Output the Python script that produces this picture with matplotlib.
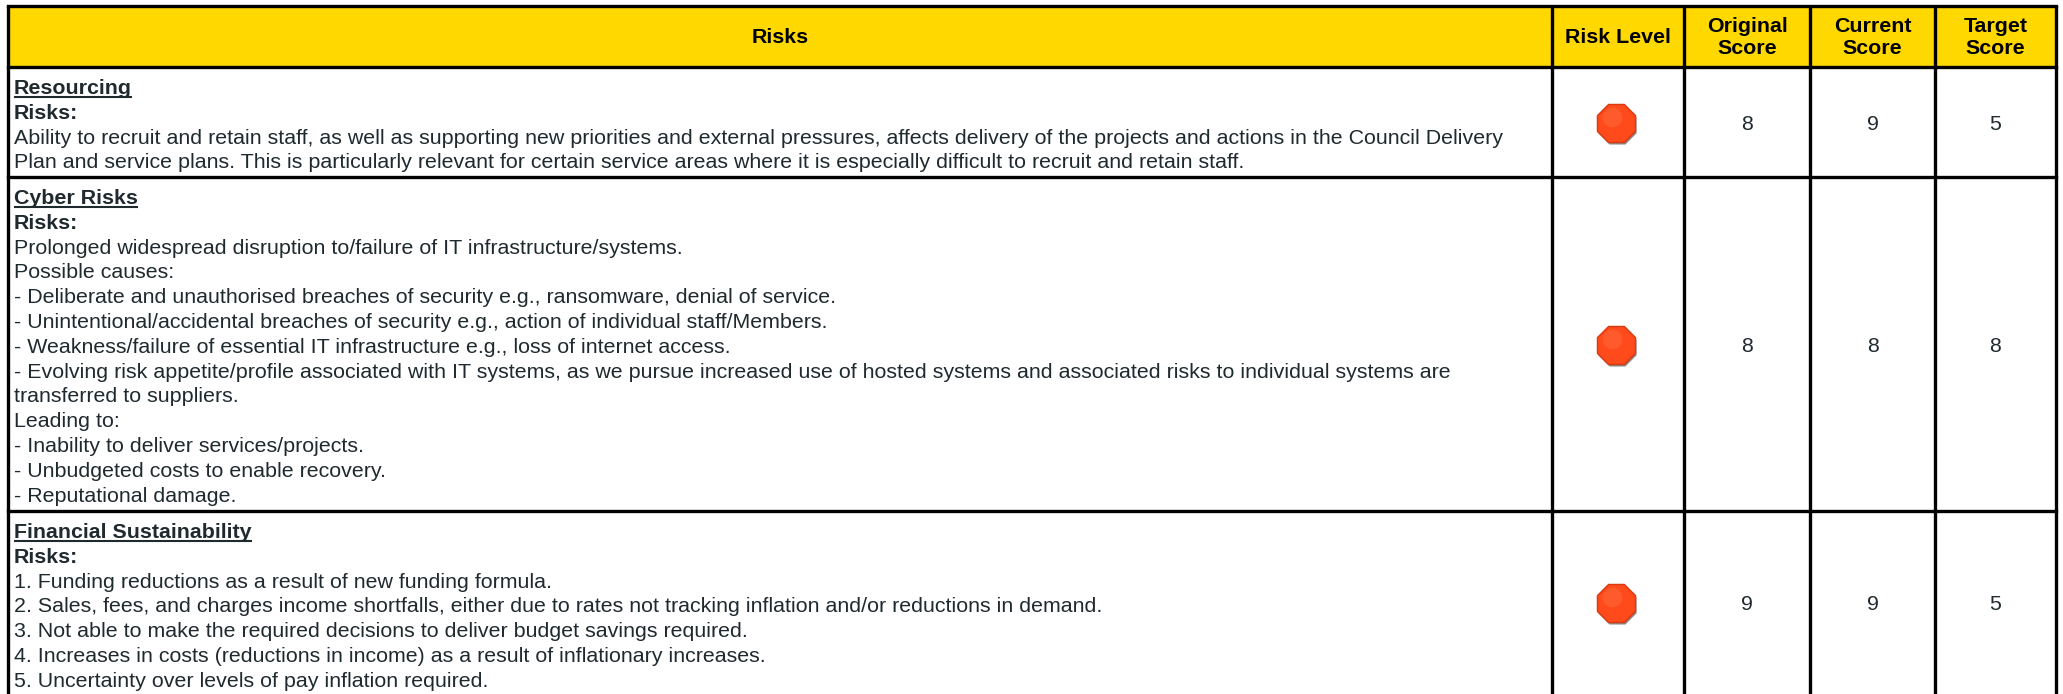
import matplotlib.pyplot as plt
from matplotlib.patches import Rectangle

plt.rcParams['font.family'] = ['Liberation Sans', 'DejaVu Sans']

W, H = 2063, 694

# table content
headers = ["Risks", "Risk Level", "Original\nScore", "Current\nScore", "Target\nScore"]
titles = ["Resourcing", "Cyber Risks", "Financial Sustainability"]
body_lines = [
    ["Ability to recruit and retain staff, as well as supporting new priorities and external pressures, affects delivery of the projects and actions in the Council Delivery",
     "Plan and service plans. This is particularly relevant for certain service areas where it is especially difficult to recruit and retain staff."],
    ["Prolonged widespread disruption to/failure of IT infrastructure/systems.",
     "Possible causes:",
     "- Deliberate and unauthorised breaches of security e.g., ransomware, denial of service.",
     "- Unintentional/accidental breaches of security e.g., action of individual staff/Members.",
     "- Weakness/failure of essential IT infrastructure e.g., loss of internet access.",
     "- Evolving risk appetite/profile associated with IT systems, as we pursue increased use of hosted systems and associated risks to individual systems are",
     "transferred to suppliers.",
     "Leading to:",
     "- Inability to deliver services/projects.",
     "- Unbudgeted costs to enable recovery.",
     "- Reputational damage."],
    ["1. Funding reductions as a result of new funding formula.",
     "2. Sales, fees, and charges income shortfalls, either due to rates not tracking inflation and/or reductions in demand.",
     "3. Not able to make the required decisions to deliver budget savings required.",
     "4. Increases in costs (reductions in income) as a result of inflationary increases.",
     "5. Uncertainty over levels of pay inflation required."],
]
original_score = [8, 8, 9]
current_score = [9, 8, 9]
target_score = [5, 8, 5]

# layout in pixels of the picture
col_edges = [8, 1552, 1684, 1810, 1935, 2056]
row_edges = [6, 67, 177, 511, 694]
marker_y = [123, 345, 603]
line_h = 24.8
text_col = '#1f2a2e'
line_col = '#000000'
fs = 15.4

fig = plt.figure(figsize=(W / 100, H / 100), dpi=100)
ax = fig.add_axes([0, 0, 1, 1])
ax.set_xlim(0, W)
ax.set_ylim(H, 0)
ax.axis('off')

ax.add_patch(Rectangle((col_edges[0], row_edges[0]), col_edges[-1] - col_edges[0],
                       row_edges[1] - row_edges[0], color='#ffd800', lw=0))

# grid
for x in col_edges:
    ax.plot([x, x], [row_edges[0], H], color=line_col, lw=2.4, solid_capstyle='butt')
for y in row_edges[:3]:
    ax.plot([col_edges[0], col_edges[-1]], [y, y], color=line_col, lw=2.4, solid_capstyle='projecting')
ax.plot([col_edges[0], col_edges[-1]], [row_edges[3], row_edges[3]], color=line_col, lw=2.4)

# header
for i, h in enumerate(headers):
    cx = (col_edges[i] + col_edges[i + 1]) / 2
    ax.text(cx, (row_edges[0] + row_edges[1]) / 2 + 1, h, ha='center', va='center', fontsize=fs,
            fontweight='bold', color='black', linespacing=1.22)

fig.canvas.draw()
rend = fig.canvas.get_renderer()

# rows
for r in range(3):
    y = row_edges[r + 1] + 27
    x = col_edges[0] + 6
    t = ax.text(x, y, titles[r], ha='left', va='baseline', fontsize=fs, fontweight='bold', color=text_col)
    bb = t.get_window_extent(rend)
    ax.plot([x, x + bb.width], [y + 3, y + 3], color=text_col, lw=1.5, solid_capstyle='butt')
    y += line_h
    ax.text(x, y, "Risks:", ha='left', va='baseline', fontsize=fs, fontweight='bold', color=text_col)
    for line in body_lines[r]:
        y += line_h
        ax.text(x, y, line, ha='left', va='baseline', fontsize=fs, color=text_col)

    # risk level marker, a stop sign
    cx = (col_edges[1] + col_edges[2]) / 2 - 2.5
    ax.scatter([cx + 1.5], [marker_y[r] + 1.5], s=880, marker='8', color='#8a8a8a', lw=0, zorder=3)
    ax.scatter([cx], [marker_y[r]], s=880, marker='8', color='#ff4a1c', edgecolors='#d93a10', lw=1, zorder=4)
    ax.scatter([cx - 4], [marker_y[r] - 6], s=200, marker='o', color='#ff5a2c', lw=0, zorder=5)

    for c, vals in zip(range(2, 5), [original_score, current_score, target_score]):
        ax.text((col_edges[c] + col_edges[c + 1]) / 2, marker_y[r] + 1, str(vals[r]), ha='center', va='center',
                fontsize=fs, color=text_col)

fig.savefig('out.png', dpi=100)
